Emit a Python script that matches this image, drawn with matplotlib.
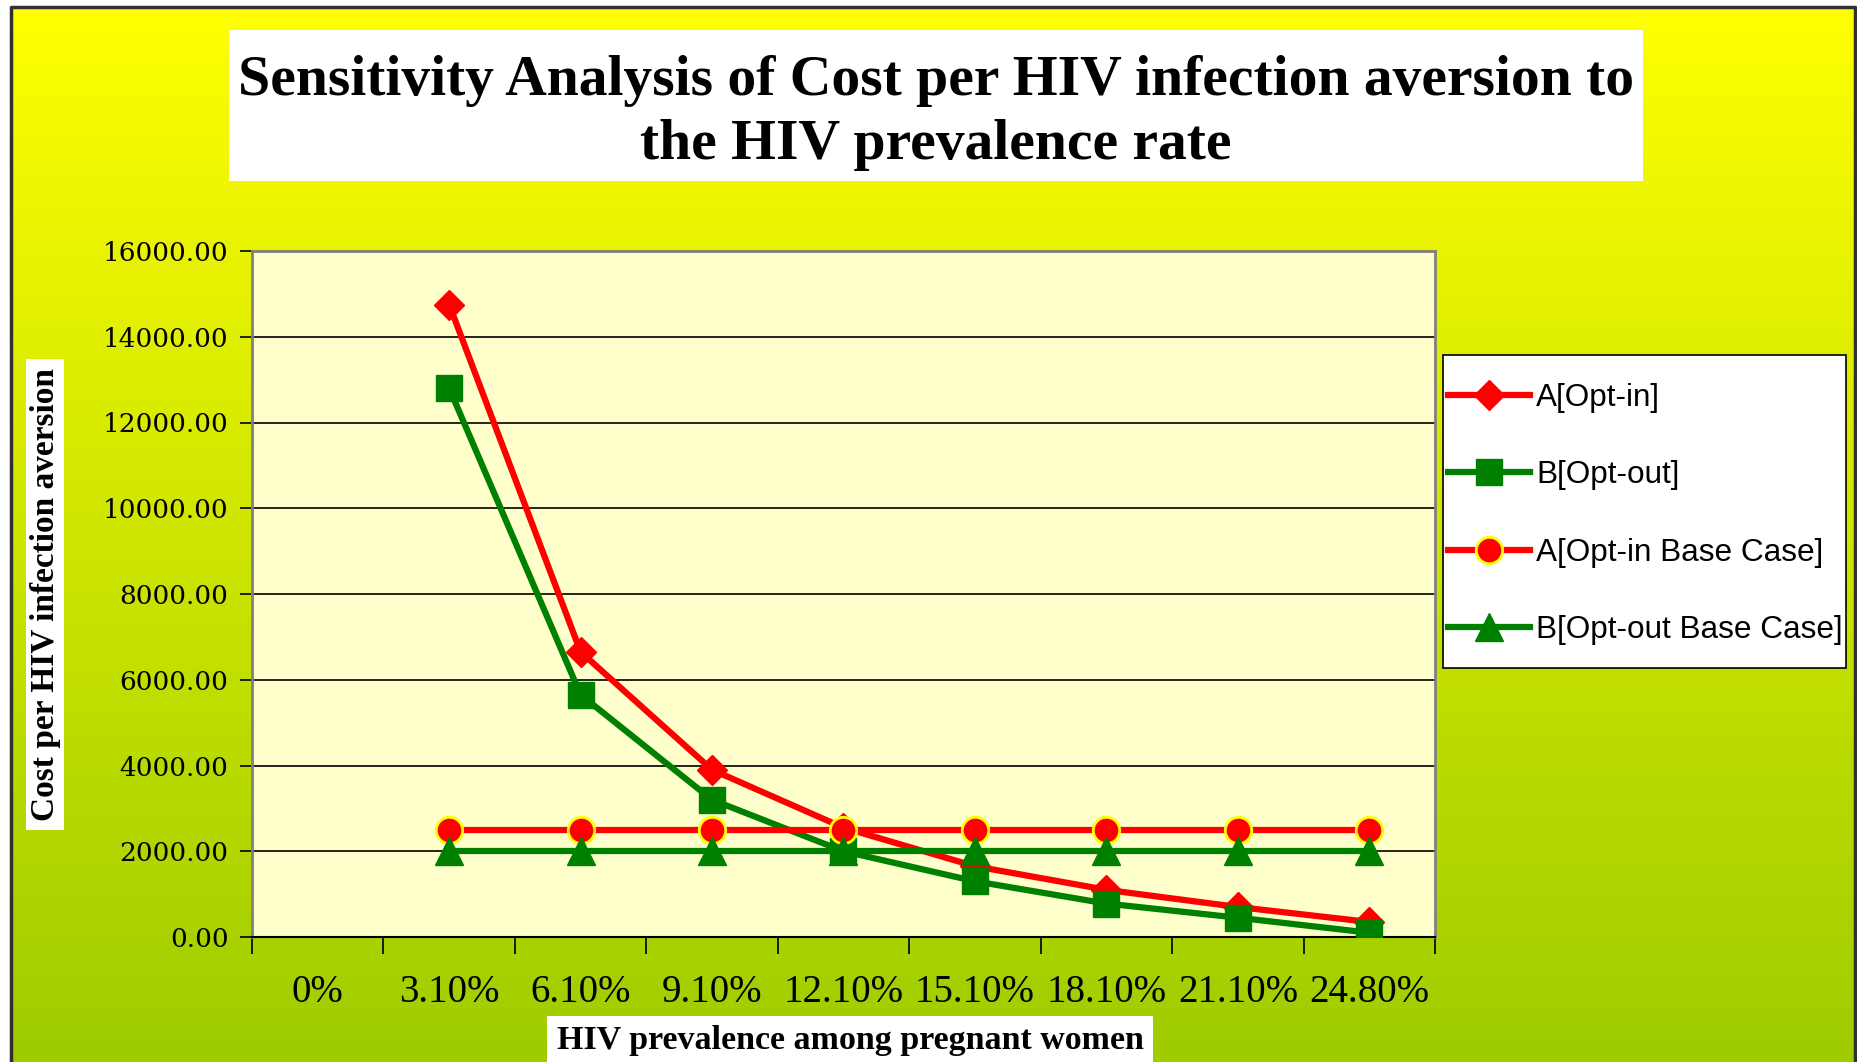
import numpy as np
import matplotlib
matplotlib.use("Agg")
import matplotlib.pyplot as plt
from matplotlib.patches import Rectangle
from matplotlib.ticker import FixedLocator, NullFormatter, FixedFormatter

# data
categories = ["0%", "3.10%", "6.10%", "9.10%", "12.10%", "15.10%", "18.10%", "21.10%", "24.80%"]
opt_in = [np.nan, 14750, 6650, 3900, 2550, 1650, 1100, 700, 350]
opt_out = [np.nan, 12800, 5650, 3200, 2000, 1300, 780, 450, 100]
opt_in_base = [np.nan, 2500, 2500, 2500, 2500, 2500, 2500, 2500, 2500]
opt_out_base = [np.nan, 2000, 2000, 2000, 2000, 2000, 2000, 2000, 2000]
yticks = [0, 2000, 4000, 6000, 8000, 10000, 12000, 14000, 16000]

W, H = 1858, 1062
fig = plt.figure(figsize=(W / 100, H / 100), dpi=100)
fig.patch.set_facecolor("white")

# background layer in pixel coordinates
bg = fig.add_axes([0, 0, 1, 1])
bg.set_xlim(0, W)
bg.set_ylim(H, 0)
bg.axis("off")
grad = np.linspace(0, 1, 256).reshape(-1, 1)
top = np.array([1.0, 1.0, 0.0])
bot = np.array([0.62, 0.80, 0.0])
img = top[None, None, :] * (1 - grad[:, :, None]) + bot[None, None, :] * grad[:, :, None]
bg.imshow(img, extent=[11, 1855, H, 7], aspect="auto", zorder=0)
bg.plot([11, 11, 1855, 1855], [H, 7, 7, H], color="#303030", lw=2.5, zorder=1)

# title box
bg.add_patch(Rectangle((229, 30), 1414, 151, facecolor="white", edgecolor="none", zorder=2))
bg.text(936, 113, "Sensitivity Analysis of Cost per HIV infection aversion to\nthe HIV prevalence rate",
        ha="center", va="center", fontsize=41.5, fontweight="bold", family="Liberation Serif",
        linespacing=1.28, zorder=3)

# axis title boxes
bg.add_patch(Rectangle((26, 359), 38, 471, facecolor="white", edgecolor="none", zorder=2))
bg.text(46, 595, "Cost per HIV infection aversion", rotation=90, ha="center", va="center",
        fontsize=24, fontweight="bold", family="Liberation Serif", zorder=3)
bg.add_patch(Rectangle((547, 1016), 606, 50, facecolor="white", edgecolor="none", zorder=2))
bg.text(850, 1040, "HIV prevalence among pregnant women", ha="center", va="center",
        fontsize=24.5, fontweight="bold", family="Liberation Serif", zorder=3)

# legend box
bg.add_patch(Rectangle((1443, 355), 403, 313, facecolor="white", edgecolor="black", lw=1.2, zorder=2))

ax = fig.add_axes([252 / W, 1 - 937 / H, (1435 - 252) / W, (937 - 251) / H])
ax.set_facecolor("#FFFFCC")
x = np.arange(len(categories))

ax.plot(x, opt_in, color="#FF0000", lw=4.5, marker="D", ms=15, mec="#FF0000", label="A[Opt-in]", zorder=3)
ax.plot(x, opt_out, color="#008000", lw=4.5, marker="s", ms=19, mec="#008000", label="B[Opt-out]", zorder=4)
ax.plot(x, opt_in_base, color="#FF0000", lw=4.5, marker="o", ms=19, mfc="#FF0000", mec="#FFFF00",
        mew=2, label="A[Opt-in Base Case]", zorder=5)
ax.plot(x, opt_out_base, color="#008000", lw=4.5, marker="^", ms=20, mec="#008000",
        label="B[Opt-out Base Case]", zorder=6)

ax.set_xlim(-0.5, len(categories) - 0.5)
ax.set_ylim(0, 16000)
ax.set_yticks(yticks)
ax.set_yticklabels(["%.2f" % v for v in yticks], family="DejaVu Serif", fontsize=19)
ax.yaxis.grid(True, color="black", lw=1.2)
ax.set_axisbelow(True)
ax.tick_params(axis="y", direction="out", length=9, width=1.2, pad=8)

ax.xaxis.set_major_locator(FixedLocator(np.arange(-0.5, len(categories), 1.0)))
ax.xaxis.set_major_formatter(NullFormatter())
ax.xaxis.set_minor_locator(FixedLocator(x))
ax.xaxis.set_minor_formatter(FixedFormatter(categories))
ax.tick_params(axis="x", which="major", direction="out", length=12, width=1.2)
ax.tick_params(axis="x", which="minor", length=0, pad=27, labelsize=28)
for lab in ax.get_xticklabels(minor=True):
    lab.set_family("Liberation Serif")

for s in ["top", "right", "left"]:
    ax.spines[s].set_color("#808080")
    ax.spines[s].set_linewidth(2)
ax.spines["bottom"].set_color("black")
ax.spines["bottom"].set_linewidth(1.5)

leg = fig.legend(loc="center left", bbox_to_anchor=(1448 / W, 1 - 514 / H),
                 prop={"family": "Liberation Sans", "size": 22.7}, frameon=False,
                 labelspacing=1.5, handlelength=2.6, handletextpad=0.2,
                 borderpad=0, borderaxespad=0)

fig.savefig("out.png", dpi=100, facecolor=fig.get_facecolor())
